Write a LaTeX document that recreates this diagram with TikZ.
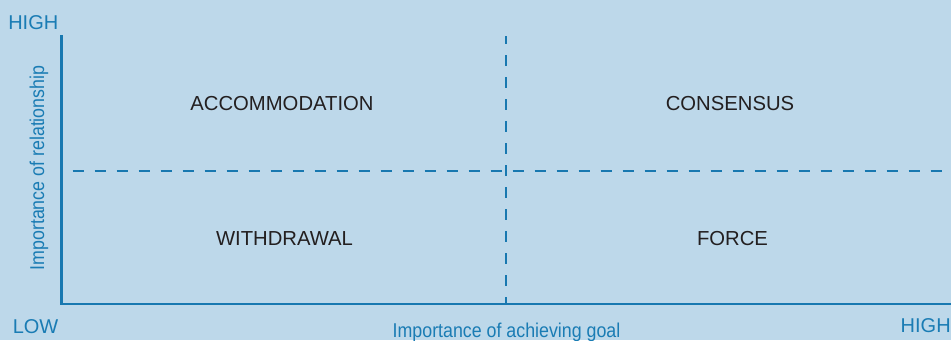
\documentclass[tikz,border=0pt]{standalone}
\usepackage{fontspec}
\setmainfont{Liberation Sans}
\newfontfamily\condfont[FakeStretch=0.89]{Liberation Sans}
\definecolor{bgblue}{HTML}{BDD8EA}
\definecolor{axblue}{HTML}{1878B0}
\definecolor{txblue}{HTML}{1A7CB4}
\definecolor{qtext}{HTML}{231F20}
\begin{document}
\begin{tikzpicture}[x=0.75pt,y=-0.75pt,
  axis/.style={draw=axblue,line width=2.2pt},
  divider/.style={draw=axblue,line width=2pt,dash pattern=on 8.25pt off 8.25pt},
  quad/.style={text=qtext,font=\fontsize{15.2pt}{17pt}\selectfont,inner sep=0pt},
  endlab/.style={text=txblue,font=\fontsize{15pt}{17pt}\selectfont,inner sep=0pt},
  axlab/.style={text=txblue,font=\condfont\fontsize{15pt}{16pt}\selectfont,inner sep=0pt}]
\fill[bgblue] (0,0) rectangle (951,340);
\useasboundingbox (0,0) rectangle (951,340);
\coordinate (top) at (61.5,36);
\coordinate (origin) at (61.5,304);
\coordinate (xend) at (951,304);
\coordinate (vtop) at (506,36);
\coordinate (vbot) at (506,304);
\coordinate (hl) at (61.5,171);
\coordinate (hr) at (951,171);
\draw[divider,dash phase=2.25pt] (vtop) -- (vbot);
\draw[divider,dash phase=8.25pt] (hl) -- (hr);
\draw[axis,line cap=rect] (top) -- (origin) -- (xend);
\node[quad,anchor=base] (acc) at (282,110) {ACCOMMODATION};
\node[quad,anchor=base] (con) at (730,110) {CONSENSUS};
\node[quad,anchor=base] (wit) at (284.5,245) {WITHDRAWAL};
\node[quad,anchor=base] (for) at (732.5,245) {FORCE};
\node[endlab,anchor=base west] (high1) at (8,29) {HIGH};
\node[endlab,anchor=base west] (low) at (12.5,333) {LOW};
\node[endlab,anchor=base east] (high2) at (951,332) {HIGH};
\node[axlab,anchor=base] (xlab) at (506.5,337) {Importance of achieving goal};
\node[axlab,anchor=base,rotate=90] (ylab) at (44,168) {Importance of relationship};
\end{tikzpicture}
\end{document}
